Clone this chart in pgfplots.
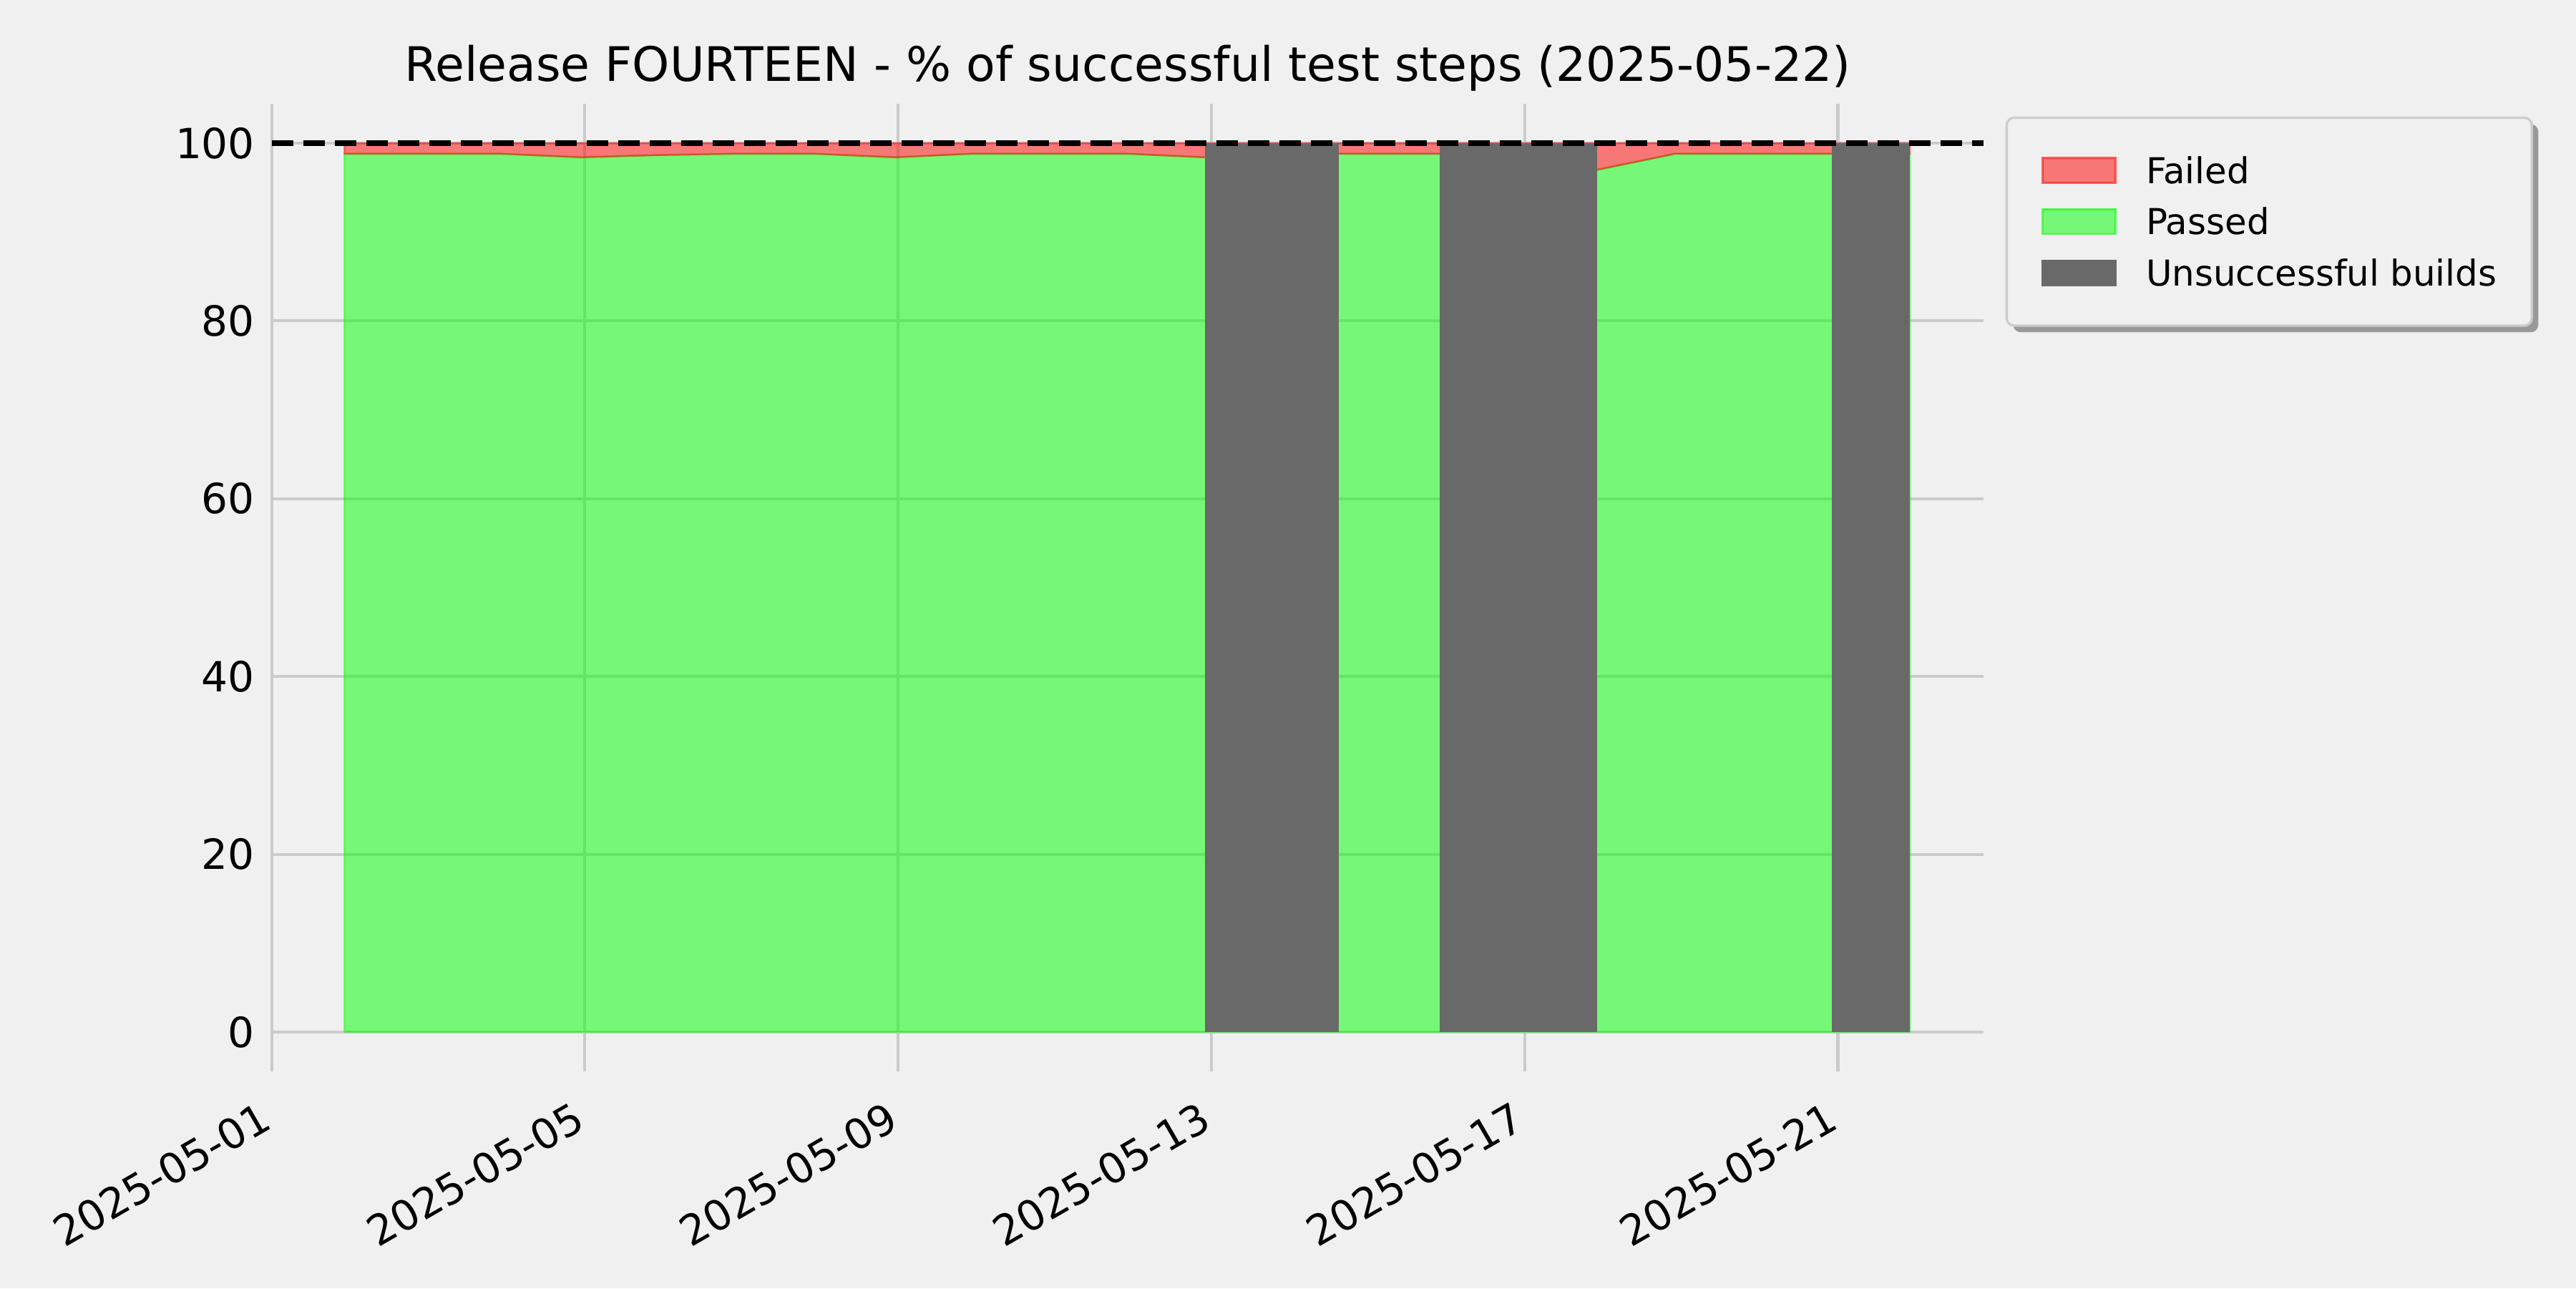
\documentclass[border=0pt]{standalone}
\usepackage{fontspec}
\setmainfont{DejaVu Sans}
\usepackage{pgfplots}
\usepackage{pgfplotstable}
\pgfplotsset{compat=1.18}
\usepgfplotslibrary{fillbetween}
\usetikzlibrary{shadows}
\definecolor{bg}{HTML}{F0F0F0}
\definecolor{gridc}{HTML}{CBCBCB}
\definecolor{ubgray}{HTML}{696969}
\definecolor{legedge}{HTML}{CCCCCC}
\definecolor{lime}{HTML}{00FF00}
\definecolor{pred}{HTML}{FF0000}
\makeatletter
\tikzset{kill preactions/.code={\let\tikz@preactions\pgfutil@empty}}
\makeatother
\pagecolor{bg}

\pgfplotstableread{
day passed
0.93 98.8
1.93 98.8
2.93 98.8
3.95 98.4
4.93 98.65
5.93 98.8
6.93 98.8
7.97 98.4
8.93 98.8
9.93 98.8
10.93 98.8
11.92 98.4
12.92 98.8
13.92 98.8
14.92 98.8
15.92 98.8
16.93 97.0
17.92 98.8
18.92 98.8
19.92 98.8
20.92 98.8
}\passedtab

\begin{document}
\begin{tikzpicture}
\begin{axis}[
  at={(1.2653in,1.01in)}, anchor=south west,
  scale only axis, width=7.9747in, height=4.5067in,
  xmin=0, xmax=21.86, ymin=-4.43, ymax=104.43,
  axis background/.style={fill=bg},
  axis line style={draw=none},
  major tick length=0pt, tick style={draw=none},
  grid=major, major grid style={color=gridc, line width=1pt},
  xtick={0,4,8,12,16,20},
  xticklabels={2025-05-01,2025-05-05,2025-05-09,2025-05-13,2025-05-17,2025-05-21},
  ytick={0,20,40,60,80,100},
  /pgf/number format/assume math mode=true,
  xticklabel style={rotate=30, anchor=north east, inner sep=0pt, font=\fontsize{14}{16.8}\selectfont, xshift=-8.5pt, yshift=-6pt},
  yticklabel style={inner sep=0pt, font=\fontsize{14}{16.8}\selectfont, xshift=-5.5pt},
  title={Release FOURTEEN - \% of successful test steps (2025-05-22)},
  title style={font=\fontsize{16}{19.2}\selectfont, at={(0.5,1)}, anchor=base, yshift=1.7pt, inner sep=0pt},
  legend image code/.code={\draw[kill preactions, sharp corners, #1] (0pt,-4.2pt) rectangle (24.5pt,4.2pt);},
  legend cell align=left,
  legend style={at={(1,1)}, anchor=north west, xshift=7.4pt, yshift=-4.3pt,
    font=\fontsize{12}{14.4}\selectfont,
    fill=bg, draw=legedge, line width=0.8pt, rounded corners=2.5pt,
    drop shadow={shadow xshift=2.2pt, shadow yshift=-2.2pt, fill=black!40, opacity=1},
    inner xsep=11.8pt, inner ysep=13.2pt, row sep=8.3pt, column sep=10pt,
    nodes={inner sep=0pt, text height=8.75pt, text depth=0pt}},
]
\addplot[name path=zero, draw=none, forget plot] coordinates {(0.93,0) (20.92,0)};
\addplot[name path=hundred, draw=none, forget plot] coordinates {(0.93,100) (20.92,100)};
\addplot[name path=pass, draw=none, forget plot] table[x=day, y=passed] {\passedtab};
\addplot[fill=lime, fill opacity=0.5, draw=lime, draw opacity=0.45, line width=0.6pt, forget plot] fill between[of=pass and zero];
\addplot[fill=pred, fill opacity=0.5, draw=pred, draw opacity=0.45, line width=0.6pt, forget plot] fill between[of=hundred and pass];
\addplot[fill=ubgray, draw=none, forget plot] coordinates {(11.92,0) (11.92,100) (13.63,100) (13.63,0)};
\addplot[fill=ubgray, draw=none, forget plot] coordinates {(14.92,0) (14.92,100) (16.93,100) (16.93,0)};
\addplot[fill=ubgray, draw=none, forget plot] coordinates {(19.92,0) (19.92,100) (20.92,100) (20.92,0)};
\addplot[black, line width=1.8pt, dash pattern=on 7.4pt off 3.2pt, forget plot] coordinates {(0,100) (21.86,100)};
\addlegendimage{fill=pred, fill opacity=0.5, draw=pred, draw opacity=0.6, line width=0.6pt}
\addlegendentry{Failed}
\addlegendimage{fill=lime, fill opacity=0.5, draw=lime, draw opacity=0.6, line width=0.6pt}
\addlegendentry{Passed}
\addlegendimage{fill=ubgray, draw=ubgray, line width=0.6pt}
\addlegendentry{Unsuccessful builds}
\end{axis}
\path[use as bounding box] (0,0) rectangle (12in,6in);
\end{tikzpicture}
\end{document}
